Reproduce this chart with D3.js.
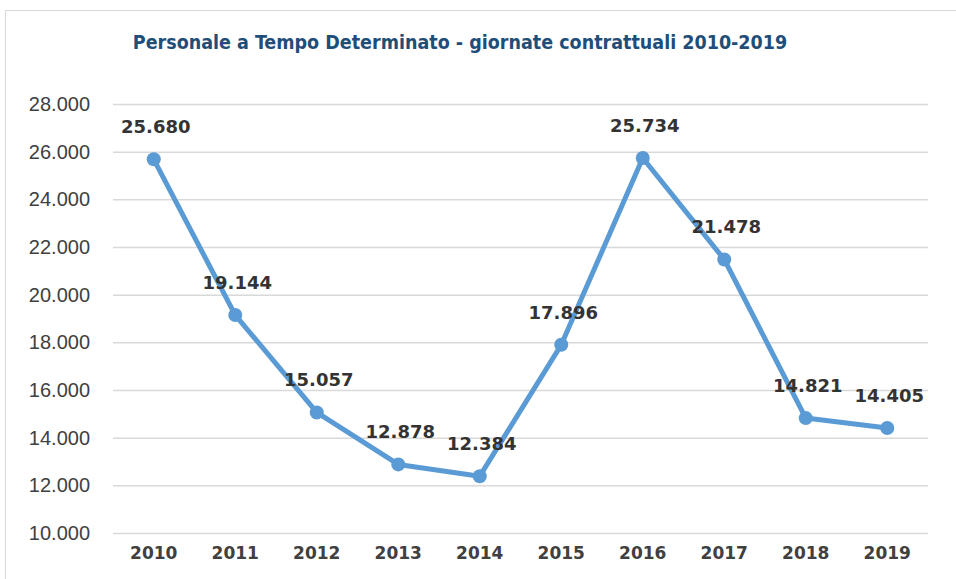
<!DOCTYPE html>
<html><head><meta charset="utf-8">
<script src="https://cdn.jsdelivr.net/npm/d3@7"></script>
<style>body{margin:0;background:#fff;}svg{display:block;}</style>
</head><body>
<svg id="c" width="956" height="579"></svg>
<script>
const years = ["2010","2011","2012","2013","2014","2015","2016","2017","2018","2019"];
const values = [25680,19144,15057,12878,12384,17896,25734,21478,14821,14405];
const yTicks = [10000,12000,14000,16000,18000,20000,22000,24000,26000,28000];
const title = "Personale a Tempo Determinato - giornate contrattuali 2010-2019";

const svg = d3.select("#c");
svg.append("rect").attr("x",5.5).attr("y",10.5).attr("width",1000).attr("height",1000)
  .attr("fill","#fff").attr("stroke","#d9d9d9").attr("stroke-width",1);

const x = d3.scaleBand().domain(years).range([113,928]);
const y = d3.scaleLinear().domain([10000,28000]).range([533,104]);
const fmt = v => d3.format(",")(v).replace(/,/g,".");

svg.append("text").attr("x",460).attr("y",49).attr("text-anchor","middle")
  .attr("font-family","DejaVu Sans Condensed, DejaVu Sans, sans-serif").attr("font-weight","bold")
  .attr("font-size",19.5).attr("fill","#1F4E79").text(title);

const ga = svg.append("g").attr("transform","translate(113,0)")
  .call(d3.axisLeft(y).tickValues(yTicks).tickSize(-815).tickFormat(fmt).tickPadding(23));
ga.select(".domain").remove();
ga.selectAll(".tick line").attr("stroke","#d9d9d9").attr("stroke-width",1.5);
ga.selectAll(".tick text").attr("font-family","Liberation Sans, Arial, sans-serif").attr("font-size",20).attr("fill","#404040");

const gx = svg.append("g").attr("transform","translate(0,533)")
  .call(d3.axisBottom(x).tickSize(0).tickPadding(14));
gx.select(".domain").remove();
gx.selectAll(".tick text").attr("font-family","DejaVu Sans, sans-serif").attr("font-weight","bold").attr("font-size",17).attr("fill","#404040");

const cx = d => x(d) + x.bandwidth()/2;
svg.append("path").datum(values)
  .attr("d", d3.line().x((d,i)=>cx(years[i])).y(d=>y(d)))
  .attr("fill","none").attr("stroke","#5B9BD5").attr("stroke-width",5).attr("stroke-linejoin","round");
svg.selectAll("circle.pt").data(values).join("circle")
  .attr("cx",(d,i)=>cx(years[i])).attr("cy",d=>y(d)).attr("r",7).attr("fill","#5B9BD5");
svg.selectAll("text.lbl").data(values).join("text").attr("class","lbl")
  .attr("x",(d,i)=>cx(years[i])+2).attr("y",d=>y(d)-26).attr("text-anchor","middle")
  .attr("font-family","DejaVu Sans, sans-serif").attr("font-weight","bold").attr("font-size",18).attr("fill","#333")
  .text(fmt);
</script>
</body></html>
